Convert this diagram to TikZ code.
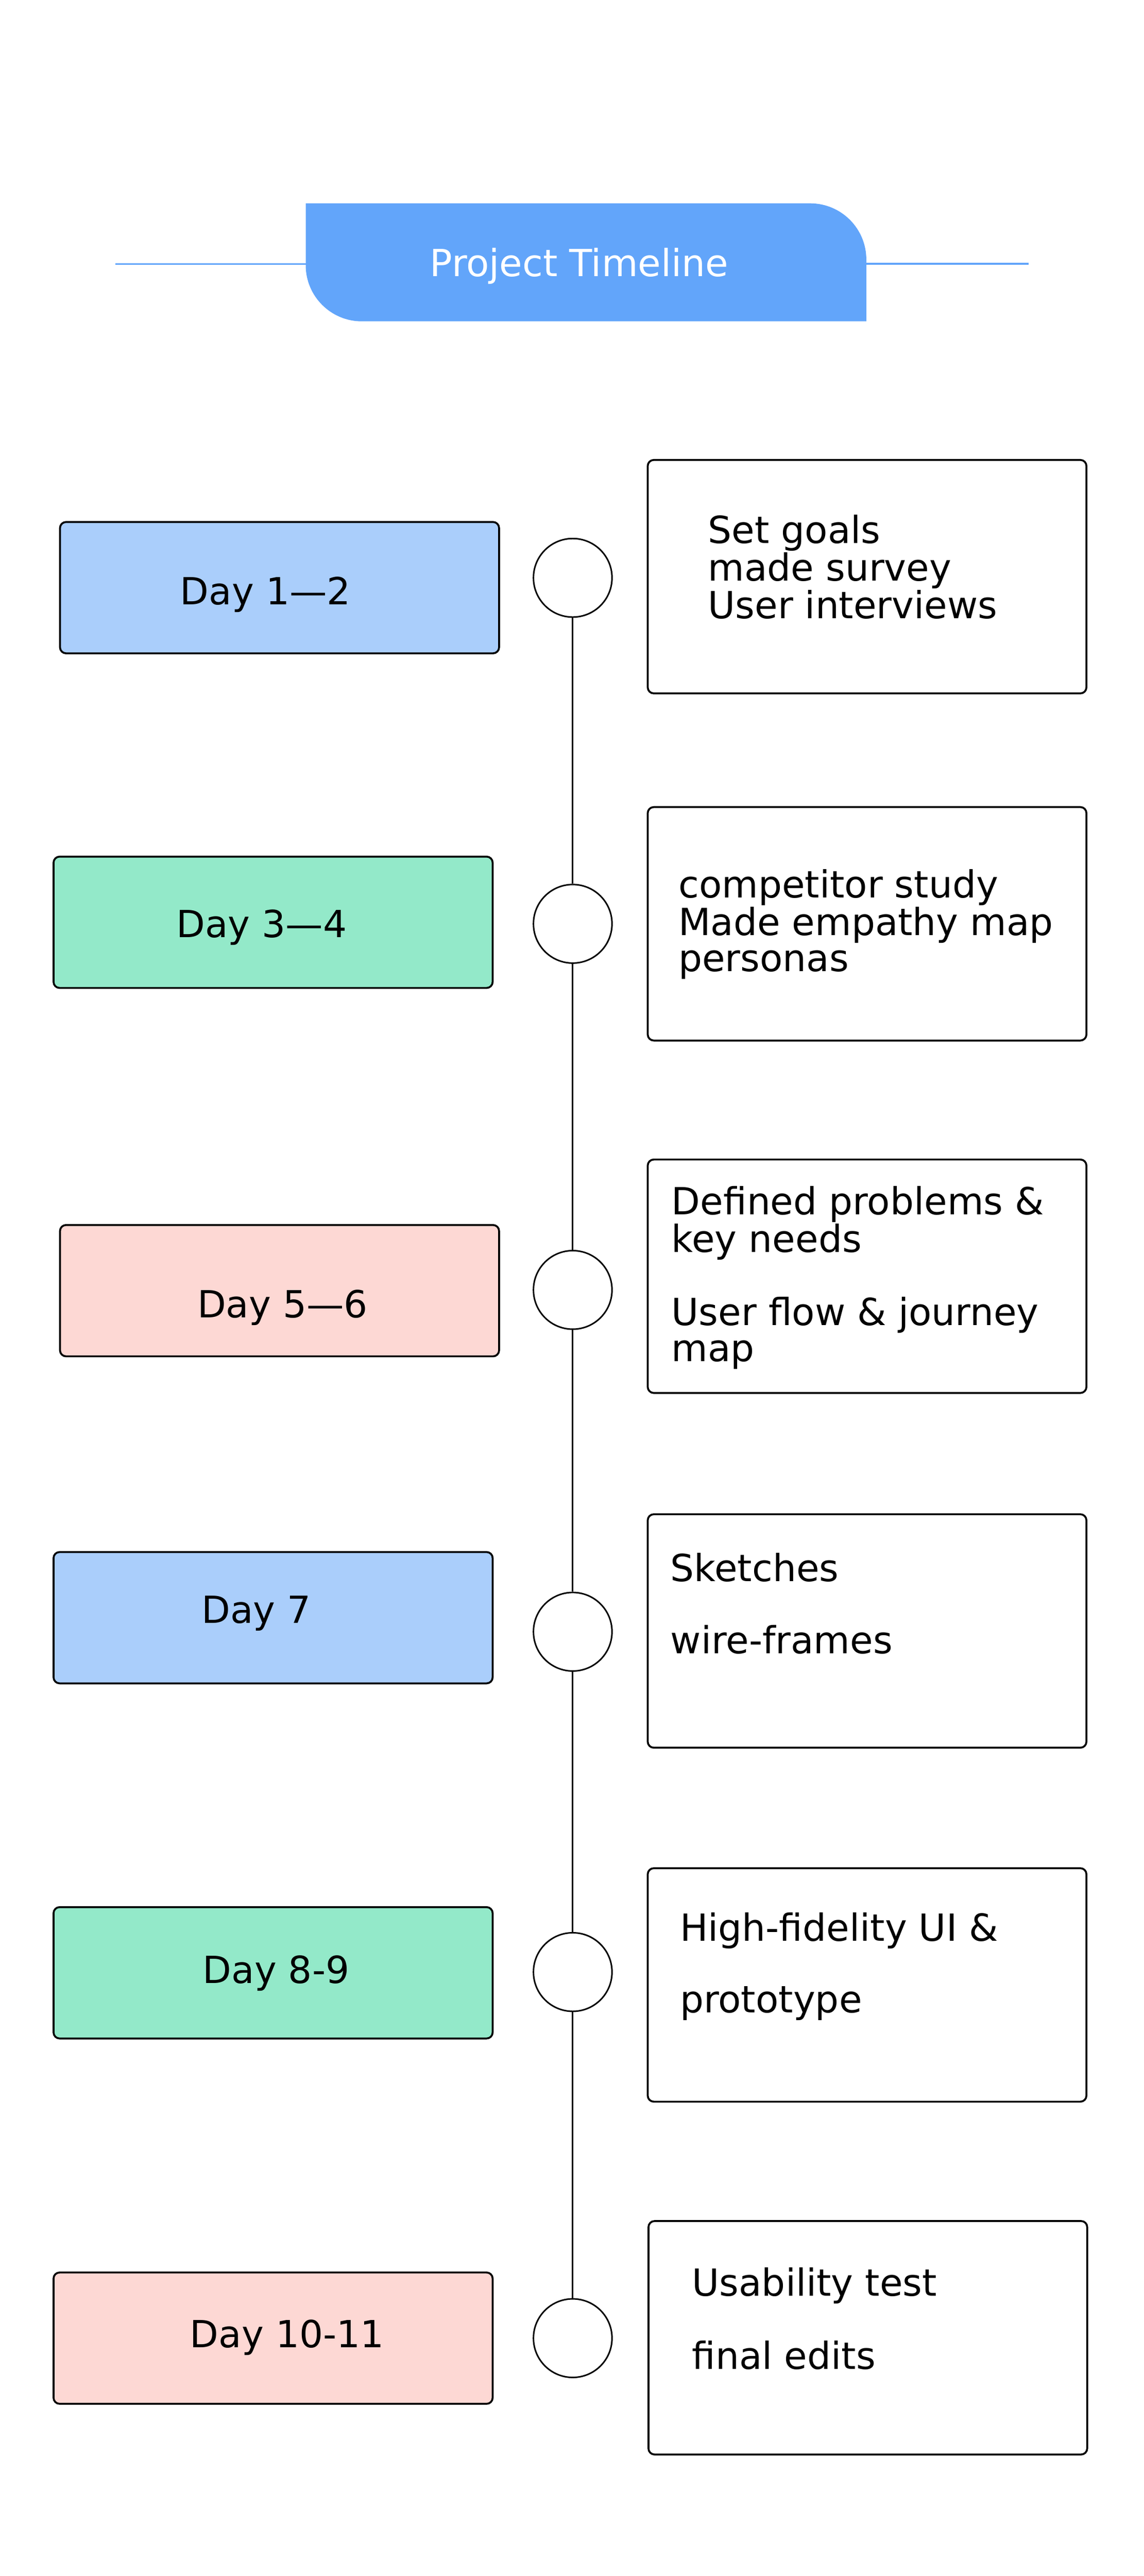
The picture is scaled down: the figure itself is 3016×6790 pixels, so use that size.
\documentclass[tikz,border=0pt]{standalone}
\usepackage{fontspec}
\setmainfont{DejaVu Sans}
\definecolor{hdrblue}{HTML}{62A5FA}
\definecolor{dayblue}{HTML}{AACEFB}
\definecolor{daygreen}{HTML}{93E9C9}
\definecolor{daypink}{HTML}{FDD8D4}
\tikzset{
  txt/.style={inner sep=0pt, font=\fontsize{28pt}{26.9pt}\selectfont, align=left},
  daybox/.style={draw=black, line width=1.42pt, rounded corners=0.16cm, minimum width=11.57cm, minimum height=3.46cm, inner sep=0pt},
  notebox/.style={draw=black, fill=white, line width=1.42pt, rounded corners=0.16cm, minimum width=11.56cm, minimum height=6.15cm, inner sep=0pt},
  dot/.style={circle, draw=black, fill=white, line width=1.14pt, minimum size=2.07cm, inner sep=0pt},
  spine/.style={line width=1.14pt, black},
  hdrline/.style={line width=1.42pt, hdrblue}
}
\begin{document}
\begin{tikzpicture}[x=0.01cm, y=-0.01cm]
\useasboundingbox (0,0) rectangle (3016,6790);
\fill[white] (0,0) rectangle (3016,6790);

% header
\fill[hdrblue] (806,536) -- (2136,536) .. controls (2217.7,536) and (2284,602.3) .. (2284,684) -- (2284,847) -- (954,847) .. controls (872.3,847) and (806,780.7) .. (806,699) -- cycle;
\coordinate (hl0) at (304,696);
\coordinate (hl1) at (806,696);
\coordinate (hr0) at (2284,695);
\coordinate (hr1) at (2712,695);
\draw[hdrline] (hl0) -- (hl1);
\draw[hdrline] (hr0) -- (hr1);
\node[txt, text=white, anchor=base] (title) at (1527,729) {Project Timeline};

% left day boxes
\node[daybox, fill=dayblue]  (d1) at (737,1549) {};
\node[daybox, fill=daygreen] (d2) at (720,2431) {};
\node[daybox, fill=daypink]  (d3) at (737,3402) {};
\node[daybox, fill=dayblue]  (d4) at (720,4264) {};
\node[daybox, fill=daygreen] (d5) at (720,5200) {};
\node[daybox, fill=daypink]  (d6) at (720,6163) {};

\node[txt, anchor=base] (t1) at (700,1593) {Day 1—2};
\node[txt, anchor=base] (t2) at (690,2471) {Day 3—4};
\node[txt, anchor=base] (t3) at (745,3473) {Day 5—6};
\node[txt, anchor=base] (t4) at (676,4279) {Day 7};
\node[txt, anchor=base] (t5) at (728,5227) {Day 8-9};
\node[txt, anchor=base] (t6) at (757,6188) {Day 10-11};

% timeline circles
\node[dot] (c1) at (1510,1523) {};
\node[dot] (c2) at (1510,2435) {};
\node[dot] (c3) at (1510,3400) {};
\node[dot] (c4) at (1510,4301) {};
\node[dot] (c5) at (1510,5198) {};
\node[dot] (c6) at (1510,6163) {};
\draw[spine] (c1.south) -- (c2.north);
\draw[spine] (c2.south) -- (c3.north);
\draw[spine] (c3.south) -- (c4.north);
\draw[spine] (c4.south) -- (c5.north);
\draw[spine] (c5.south) -- (c6.north);

% right note boxes
\node[notebox] (n1) at (2286,1520) {};
\node[notebox] (n2) at (2286,2435) {};
\node[notebox] (n3) at (2286,3364) {};
\node[notebox] (n4) at (2286,4299) {};
\node[notebox] (n5) at (2286,5232) {};
\node[notebox] (n6) at (2288,6162) {};

% multi-line texts: base anchor is the baseline of the last line
\node[txt, anchor=base west] (r1) at (1866,1630) {Set goals\\made survey\\User interviews};
\node[txt, anchor=base west] (r2) at (1788,2560) {competitor study\\Made empathy map\\personas};
\node[txt, anchor=base west] (r3) at (1770,3588) {Defined problems \&\\key needs\\[26.9pt]User flow \& journey\\map};
\node[txt, anchor=base west] (r4) at (1767,4358) {Sketches\\[26.9pt]wire-frames};
\node[txt, anchor=base west] (r5) at (1792,5305) {High-fidelity UI \&\\[26.9pt]prototype};
\node[txt, anchor=base west] (r6) at (1824,6245) {Usability test\\[26.9pt]final edits};
\end{tikzpicture}
\end{document}
